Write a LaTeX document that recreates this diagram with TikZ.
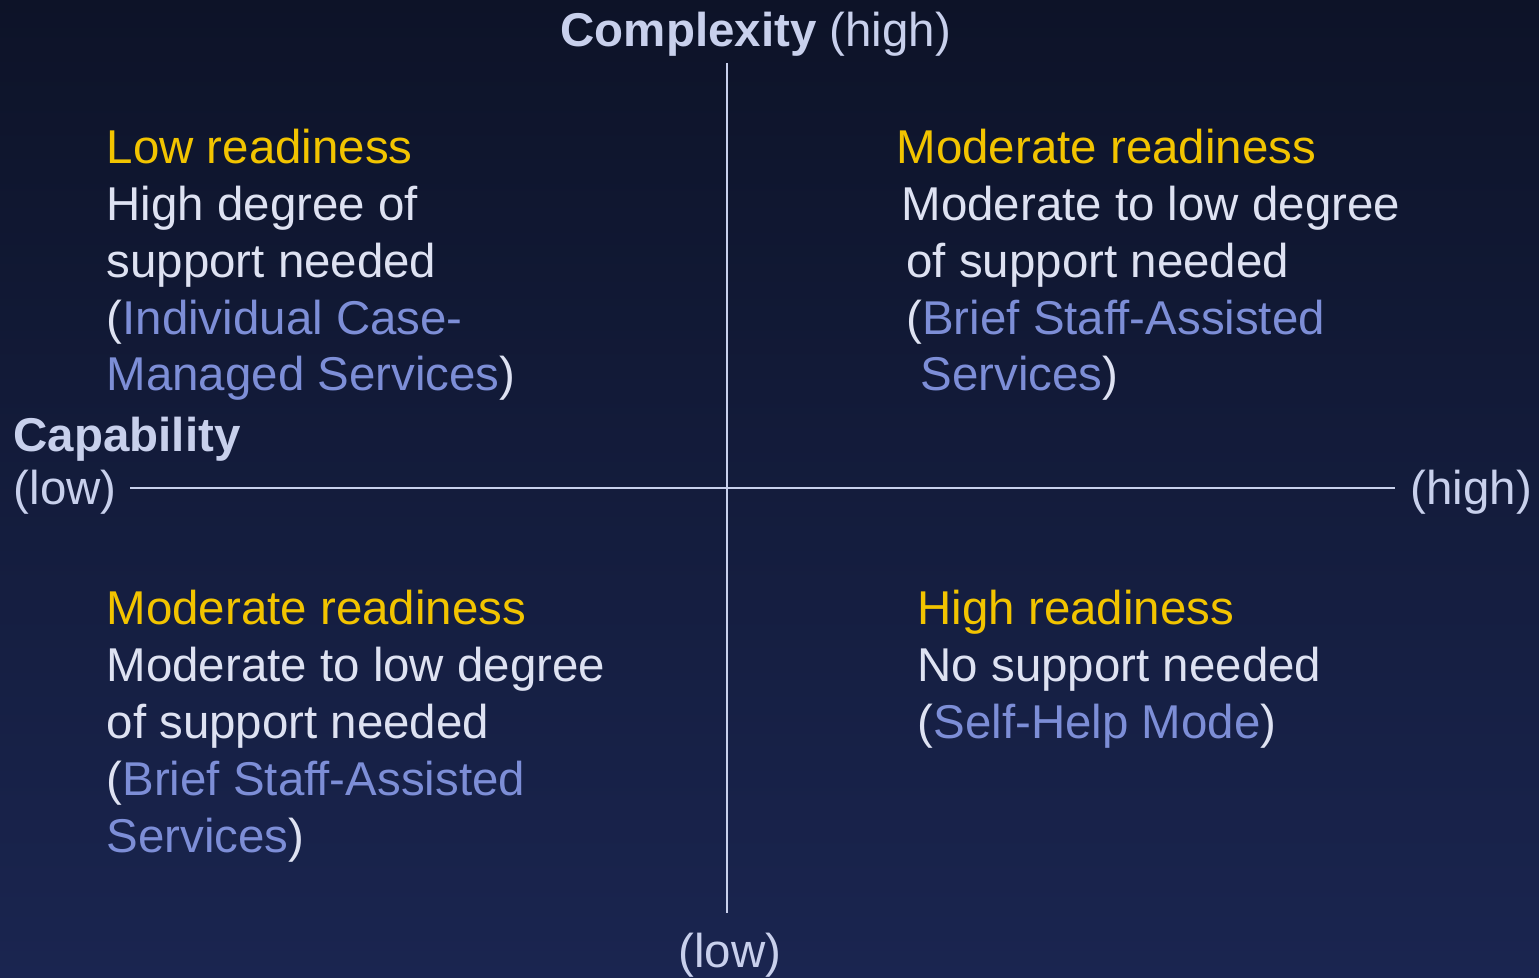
\documentclass[tikz,border=0pt]{standalone}
\usepackage{fontspec}
\setmainfont{Liberation Sans}
\definecolor{bgtop}{RGB}{13,19,40}
\definecolor{bgbot}{RGB}{26,37,80}
\definecolor{ready}{RGB}{242,196,0}
\definecolor{plain}{RGB}{222,226,242}
\definecolor{service}{RGB}{125,142,215}
\definecolor{axis}{RGB}{200,208,236}
\newcommand{\rdy}[1]{\textcolor{ready}{#1}}
\newcommand{\svc}[1]{\textcolor{service}{#1}}

\begin{document}
\begin{tikzpicture}[x=0.1mm, y=-0.1mm,
	quad/.style={anchor=base west, inner sep=0pt, align=left, text=plain,
		font=\fontsize{13.5}{16.2}\selectfont},
	axlabel/.style={anchor=base west, inner sep=0pt, text=axis,
		font=\fontsize{13.5}{16.2}\selectfont}]
	%Hintergrund
	\shade[top color=bgtop, bottom color=bgbot] (0,0) rectangle (1539,978);
	\useasboundingbox (0,0) rectangle (1539,978);
	% Achsen zeichnen
	\coordinate (ytop) at (727,63);
	\coordinate (ybot) at (727,913);
	\coordinate (xleft) at (130,488);
	\coordinate (xright) at (1395,488);
	\draw[axis, line width=0.6pt] (ytop) -- (ybot);
	\draw[axis, line width=0.6pt] (xleft) -- (xright);
	% Achsen beschriften
	\node[axlabel] (cplx) at (560,47) {\textbf{Complexity} (high)};
	\node[axlabel, anchor=base] (cplxlow) at (730,967) {(low)};
	\node[axlabel] (capab) at (13,452) {\textbf{Capability}};
	\node[axlabel] (caplow) at (13,505) {(low)};
	\node[axlabel] (caphigh) at (1410,505) {(high)};
	% Quadranten (Anker = Grundlinie der letzten Zeile)
	\node[quad] (lowready) at (106,391) {\rdy{Low readiness}\\High degree of\\support needed\\(\svc{Individual Case-}\\\svc{Managed Services})};
	\node[quad] (modreadyA) at (896,391) {\rdy{Moderate readiness}\\\hspace*{1.4pt}Moderate to low degree\\\hspace*{2.8pt}of support needed\\\hspace*{2.8pt}(\svc{Brief Staff-Assisted}\\\hspace*{6.8pt}\svc{Services})};
	\node[quad] (modreadyB) at (106,852) {\rdy{Moderate readiness}\\Moderate to low degree\\of support needed\\(\svc{Brief Staff-Assisted}\\\svc{Services})};
	\node[quad] (highready) at (917,738) {\rdy{High readiness}\\No support needed\\(\svc{Self-Help Mode})};
\end{tikzpicture}
\end{document}
